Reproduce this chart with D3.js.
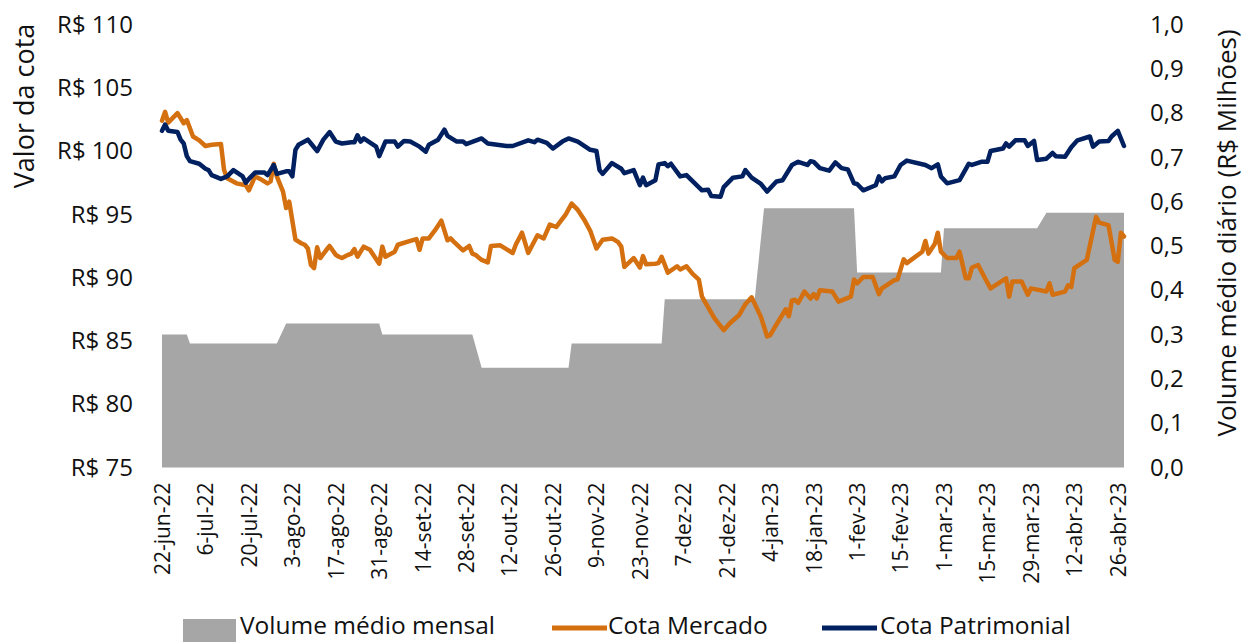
<!DOCTYPE html>
<html><head><meta charset="utf-8">
<script src="https://cdn.jsdelivr.net/npm/d3@7/dist/d3.min.js"></script>
<style>
body{margin:0;background:#fff}
svg{display:block}
text{font-family:"Open Sans",sans-serif;fill:#111}
</style>
</head><body>
<svg id="chart" width="1245" height="642"></svg>
<script>
// ---------- DATA ----------
const startDate = "2022-06-22";
const endDate = "2023-04-28";

const volMonths = ["2022-06","2022-07","2022-08","2022-09","2022-10","2022-11","2022-12","2023-01","2023-02","2023-03","2023-04"];
const volValues = [0.30, 0.28, 0.325, 0.30, 0.225, 0.28, 0.38, 0.585, 0.44, 0.54, 0.575];

const patrimonialDates = ["2022-06-22","2022-06-23","2022-06-24","2022-06-27","2022-06-28","2022-06-29","2022-06-30","2022-07-01","2022-07-04","2022-07-06","2022-07-07","2022-07-08","2022-07-11","2022-07-13","2022-07-15","2022-07-18","2022-07-19","2022-07-20","2022-07-22","2022-07-25","2022-07-26","2022-07-28","2022-07-29","2022-08-01","2022-08-02","2022-08-03","2022-08-04","2022-08-05","2022-08-08","2022-08-09","2022-08-11","2022-08-13","2022-08-15","2022-08-17","2022-08-19","2022-08-22","2022-08-23","2022-08-24","2022-08-25","2022-08-26","2022-08-30","2022-08-31","2022-09-02","2022-09-05","2022-09-06","2022-09-08","2022-09-10","2022-09-13","2022-09-15","2022-09-16","2022-09-19","2022-09-21","2022-09-22","2022-09-25","2022-09-27","2022-09-28","2022-10-03","2022-10-05","2022-10-11","2022-10-13","2022-10-18","2022-10-20","2022-10-21","2022-10-24","2022-10-26","2022-10-29","2022-10-31","2022-11-03","2022-11-07","2022-11-09","2022-11-10","2022-11-11","2022-11-14","2022-11-17","2022-11-18","2022-11-21","2022-11-23","2022-11-24","2022-11-25","2022-11-28","2022-11-29","2022-12-01","2022-12-02","2022-12-03","2022-12-06","2022-12-08","2022-12-13","2022-12-15","2022-12-16","2022-12-19","2022-12-20","2022-12-23","2022-12-26","2022-12-27","2022-12-29","2023-01-01","2023-01-03","2023-01-06","2023-01-08","2023-01-11","2023-01-13","2023-01-16","2023-01-17","2023-01-18","2023-01-20","2023-01-23","2023-01-25","2023-01-27","2023-01-29","2023-01-31","2023-02-01","2023-02-03","2023-02-07","2023-02-08","2023-02-09","2023-02-10","2023-02-13","2023-02-15","2023-02-17","2023-02-23","2023-02-25","2023-02-27","2023-02-28","2023-03-02","2023-03-06","2023-03-09","2023-03-10","2023-03-13","2023-03-15","2023-03-16","2023-03-20","2023-03-21","2023-03-22","2023-03-24","2023-03-27","2023-03-28","2023-03-30","2023-03-31","2023-04-03","2023-04-05","2023-04-06","2023-04-09","2023-04-11","2023-04-13","2023-04-17","2023-04-18","2023-04-20","2023-04-23","2023-04-24","2023-04-26","2023-04-28"];
const patrimonialValues = [101.6,102.1,101.6,101.5,100.9,100.6,99.6,99.2,99.0,98.6,98.5,98.1,97.8,98.0,98.5,98.0,97.5,97.8,98.3,98.3,98.1,98.9,98.2,98.4,98.4,98.0,100.1,100.5,100.9,100.6,100.0,100.9,101.5,100.75,100.6,100.7,100.7,101.25,100.75,101.0,100.35,99.6,100.75,100.75,100.35,100.8,100.75,100.35,99.95,100.5,100.9,101.7,101.2,100.75,100.75,100.55,101.0,100.6,100.4,100.4,100.85,100.7,100.9,100.65,100.2,100.75,101.0,100.75,100.1,100.0,98.5,98.2,99.05,98.6,98.25,98.5,97.3,97.9,97.3,97.7,98.95,99.05,98.8,99.0,98.0,98.1,96.9,96.95,96.45,96.4,97.15,97.9,98.0,98.5,97.9,97.4,96.8,97.6,97.7,98.9,99.15,98.9,99.2,99.15,98.65,98.45,99.1,98.65,98.55,97.45,97.4,96.9,97.3,98.0,97.6,97.85,98.0,98.9,99.25,98.9,98.65,98.95,98.0,97.45,97.7,99.0,98.9,99.15,99.15,100.0,100.2,100.6,100.35,100.85,100.85,100.4,100.8,99.3,99.4,99.85,99.6,99.55,100.3,100.85,101.15,100.35,100.75,100.8,101.15,101.6,100.4];

const mercadoDates = ["2022-06-22","2022-06-23","2022-06-24","2022-06-27","2022-06-29","2022-06-30","2022-07-02","2022-07-04","2022-07-06","2022-07-08","2022-07-11","2022-07-12","2022-07-13","2022-07-16","2022-07-19","2022-07-20","2022-07-22","2022-07-24","2022-07-26","2022-07-27","2022-07-28","2022-07-29","2022-07-31","2022-08-01","2022-08-02","2022-08-04","2022-08-06","2022-08-07","2022-08-08","2022-08-09","2022-08-10","2022-08-11","2022-08-12","2022-08-14","2022-08-15","2022-08-17","2022-08-18","2022-08-19","2022-08-21","2022-08-22","2022-08-23","2022-08-24","2022-08-26","2022-08-28","2022-08-31","2022-09-01","2022-09-02","2022-09-05","2022-09-06","2022-09-10","2022-09-12","2022-09-13","2022-09-14","2022-09-16","2022-09-18","2022-09-20","2022-09-22","2022-09-23","2022-09-24","2022-09-27","2022-09-29","2022-09-30","2022-10-01","2022-10-03","2022-10-05","2022-10-06","2022-10-09","2022-10-13","2022-10-14","2022-10-16","2022-10-18","2022-10-21","2022-10-23","2022-10-25","2022-10-27","2022-10-30","2022-11-01","2022-11-03","2022-11-05","2022-11-06","2022-11-07","2022-11-09","2022-11-11","2022-11-14","2022-11-16","2022-11-17","2022-11-18","2022-11-21","2022-11-23","2022-11-24","2022-11-25","2022-11-28","2022-11-29","2022-11-30","2022-12-02","2022-12-05","2022-12-06","2022-12-08","2022-12-10","2022-12-12","2022-12-13","2022-12-17","2022-12-20","2022-12-22","2022-12-25","2022-12-27","2022-12-29","2023-01-01","2023-01-03","2023-01-04","2023-01-06","2023-01-09","2023-01-10","2023-01-11","2023-01-12","2023-01-13","2023-01-15","2023-01-17","2023-01-18","2023-01-19","2023-01-20","2023-01-24","2023-01-26","2023-01-30","2023-01-31","2023-02-01","2023-02-03","2023-02-06","2023-02-08","2023-02-09","2023-02-13","2023-02-14","2023-02-16","2023-02-17","2023-02-22","2023-02-23","2023-02-24","2023-02-26","2023-02-27","2023-02-28","2023-03-02","2023-03-05","2023-03-06","2023-03-08","2023-03-09","2023-03-10","2023-03-12","2023-03-14","2023-03-16","2023-03-21","2023-03-22","2023-03-23","2023-03-26","2023-03-28","2023-03-29","2023-04-03","2023-04-04","2023-04-05","2023-04-09","2023-04-10","2023-04-11","2023-04-12","2023-04-16","2023-04-19","2023-04-20","2023-04-23","2023-04-25","2023-04-26","2023-04-27","2023-04-28"];
const mercadoValues = [102.4,103.1,102.25,103.0,102.2,102.45,101.15,100.85,100.4,100.5,100.55,98.5,97.85,97.45,97.3,96.9,98.0,97.75,97.45,97.6,99.0,98.0,96.8,95.5,96.0,93.0,92.7,92.6,92.3,91.0,90.75,92.4,91.55,92.2,92.5,91.8,91.65,91.55,91.8,91.9,92.25,91.65,92.45,92.2,91.1,92.45,91.65,92.05,92.6,92.9,93.05,92.2,93.1,93.1,93.75,94.5,92.95,93.1,92.85,92.15,92.5,91.9,91.8,91.4,91.2,92.5,92.55,91.95,92.6,93.55,91.95,93.35,93.1,94.2,94.0,94.95,95.85,95.35,94.6,94.15,93.7,92.3,93.0,93.1,92.8,92.45,90.85,91.55,90.8,91.7,91.05,91.1,91.15,91.65,90.4,90.9,90.65,90.9,90.3,89.85,88.5,86.8,85.85,86.4,87.05,87.9,88.45,86.9,85.35,85.45,86.3,87.5,86.95,88.2,88.25,88.0,88.9,88.35,88.7,88.35,89.0,88.9,88.1,88.5,89.85,89.55,90.05,90.05,88.7,89.15,89.8,89.85,91.45,91.15,92.05,92.9,91.9,92.65,93.55,92.05,91.55,91.55,92.05,89.95,89.95,90.8,91.0,90.05,89.15,89.95,88.5,89.7,89.7,88.65,89.15,88.9,89.55,88.65,88.9,89.4,89.25,90.75,91.4,94.8,94.35,94.15,91.4,91.25,93.55,93.25];

const tickDates = ["2022-06-22","2022-07-06","2022-07-20","2022-08-03","2022-08-17","2022-08-31","2022-09-14","2022-09-28","2022-10-12","2022-10-26","2022-11-09","2022-11-23","2022-12-07","2022-12-21","2023-01-04","2023-01-18","2023-02-01","2023-02-15","2023-03-01","2023-03-15","2023-03-29","2023-04-12","2023-04-26"];
const monthAbbr = ["jan","fev","mar","abr","mai","jun","jul","ago","set","out","nov","dez"];
const leftTicks = [75, 80, 85, 90, 95, 100, 105, 110];
const rightTicks = [0, 0.1, 0.2, 0.3, 0.4, 0.5, 0.6, 0.7, 0.8, 0.9, 1.0];
const seriesNames = ["Volume médio mensal", "Cota Mercado", "Cota Patrimonial"];
const leftTitle = "Valor da cota";
const rightTitle = "Volume médio diário (R$ Milhões)";

// ---------- CHART ----------
const parse = d3.utcParse("%Y-%m-%d");
const svg = d3.select("#chart");
const colors = {vol: "#A6A6A6", mercado: "#D4700F", patrimonial: "#002060"};

const x = d3.scaleUtc().domain([parse(startDate), parse(endDate)]).range([162, 1124]);
const yL = d3.scaleLinear().domain([75, 110]).range([467.5, 24.5]);
const yR = d3.scaleLinear().domain([0, 1]).range([467.5, 24.5]);

// Monthly volume as an area over business days (step between last and first business day)
const s0 = parse(startDate), s1 = parse(endDate);
const isWeekday = d => d.getUTCDay() !== 0 && d.getUTCDay() !== 6;
const volPts = [];
volMonths.forEach((m, i) => {
  const ms = d3.utcParse("%Y-%m")(m);
  const me = d3.utcDay.offset(d3.utcMonth.offset(ms, 1), -1);
  let a = ms < s0 ? s0 : ms;
  let b = me > s1 ? s1 : me;
  while (!isWeekday(a)) a = d3.utcDay.offset(a, 1);
  while (!isWeekday(b)) b = d3.utcDay.offset(b, -1);
  volPts.push([a, volValues[i]], [b, volValues[i]]);
});

svg.append("path")
  .datum(volPts)
  .attr("fill", colors.vol)
  .attr("d", d3.area().x(d => x(d[0])).y0(yR(0)).y1(d => yR(d[1])));

const line = d3.line().x(d => x(d[0])).y(d => yL(d[1]));
const merc = mercadoDates.map((d, i) => [parse(d), mercadoValues[i]]);
const patr = patrimonialDates.map((d, i) => [parse(d), patrimonialValues[i]]);

svg.append("path").datum(merc)
  .attr("fill", "none").attr("stroke", colors.mercado).attr("stroke-width", 4.5)
  .attr("stroke-linejoin", "round").attr("stroke-linecap", "round")
  .attr("d", line);
svg.append("path").datum(patr)
  .attr("fill", "none").attr("stroke", colors.patrimonial).attr("stroke-width", 4.5)
  .attr("stroke-linejoin", "round").attr("stroke-linecap", "round")
  .attr("d", line);

// Axes
const fmtDate = d => d.getUTCDate() + "-" + monthAbbr[d.getUTCMonth()] + "-" + d3.utcFormat("%y")(d);
const xAxis = svg.append("g").attr("transform", "translate(0,467.5)")
  .call(d3.axisBottom(x).tickValues(tickDates.map(parse)).tickFormat(fmtDate).tickSize(0));
xAxis.select(".domain").remove();
xAxis.selectAll("text")
  .attr("transform", "rotate(-90)")
  .attr("x", -15).attr("y", 0).attr("dy", "0.35em")
  .style("text-anchor", "end")
  .style("font-size", "21px").style("font-family", "'Open Sans',sans-serif").attr("fill", "#111");

const yAxisL = svg.append("g").attr("transform", "translate(162,0)")
  .call(d3.axisLeft(yL).tickValues(leftTicks).tickFormat(d => "R$ " + d).tickSize(0).tickPadding(29));
yAxisL.select(".domain").remove();
yAxisL.selectAll("text").style("font-size", "24px").style("font-family", "'Open Sans',sans-serif").attr("fill", "#111");

const yAxisR = svg.append("g").attr("transform", "translate(1124,0)")
  .call(d3.axisRight(yR).tickValues(rightTicks).tickFormat(d => d3.format(".1f")(d).replace(".", ",")).tickSize(0).tickPadding(26));
yAxisR.select(".domain").remove();
yAxisR.selectAll("text").style("font-size", "24px").style("font-family", "'Open Sans',sans-serif").attr("fill", "#111");

// Titles
svg.append("text").attr("transform", "translate(34,106) rotate(-90)")
  .attr("text-anchor", "middle").style("font-size", "27px").text(leftTitle);
svg.append("text").attr("transform", "translate(1236,233) rotate(-90)")
  .attr("text-anchor", "middle").style("font-size", "26px").text(rightTitle);

// Legend
const lg = svg.append("g");
lg.append("rect").attr("x", 183).attr("y", 619).attr("width", 53).attr("height", 23).attr("fill", colors.vol);
lg.append("text").attr("x", 240).attr("y", 634).style("font-size", "24.5px").text(seriesNames[0]);
lg.append("line").attr("x1", 552).attr("x2", 607).attr("y1", 628).attr("y2", 628)
  .attr("stroke", colors.mercado).attr("stroke-width", 5);
lg.append("text").attr("x", 608).attr("y", 634).style("font-size", "24.5px").text(seriesNames[1]);
lg.append("line").attr("x1", 822).attr("x2", 877).attr("y1", 628).attr("y2", 628)
  .attr("stroke", colors.patrimonial).attr("stroke-width", 5);
lg.append("text").attr("x", 880).attr("y", 634).style("font-size", "24.5px").text(seriesNames[2]);
</script>
</body></html>
